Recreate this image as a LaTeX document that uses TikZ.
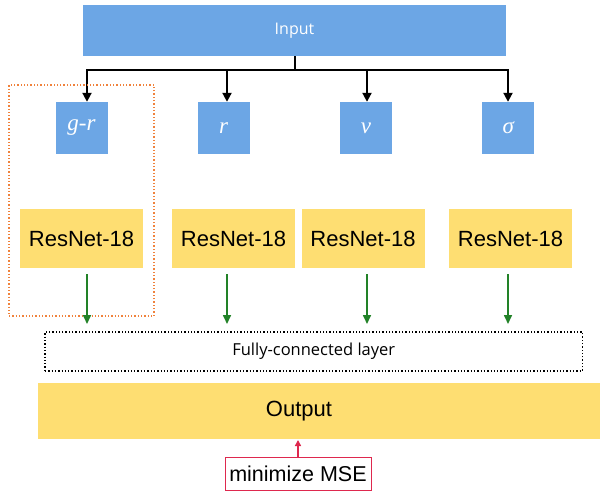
\documentclass[tikz,border=0pt]{standalone}
\usepackage{fontspec}
\setmainfont{Liberation Sans}
\newfontfamily\lightfont{Open Sans}
\newfontfamily\serifit{Liberation Serif}
\usetikzlibrary{arrows.meta}
\definecolor{bluebox}{RGB}{108,166,229}
\definecolor{yellowbox}{RGB}{254,222,114}
\definecolor{greenarrow}{RGB}{34,130,40}
\definecolor{redmse}{RGB}{222,40,78}
\definecolor{orangedot}{RGB}{240,130,60}
\tikzset{
  bluesq/.style={fill=bluebox, draw=none, minimum width=52pt, minimum height=52pt, inner sep=0pt, text=white, font=\serifit\itshape\fontsize{23}{27}\selectfont},
  resbox/.style={fill=yellowbox, draw=none, minimum width=123pt, minimum height=59pt, inner sep=0pt, font=\fontsize{22}{26}\selectfont},
  busline/.style={line width=2pt, black},
  busarrow/.style={line width=2pt, black, -{Triangle[length=9pt,width=9pt]}},
  greenarr/.style={line width=1.6pt, greenarrow, -{Triangle[length=9pt,width=8pt]}},
}
\begin{document}
\begin{tikzpicture}[x=1pt,y=-1pt]
\useasboundingbox (0,0) rectangle (600,491);
% input
\node[fill=bluebox, minimum width=423pt, minimum height=51pt, inner sep=0pt, text=white, font=\lightfont\fontsize{16}{20}\selectfont] (input) at (294.5,30.5) {Input};
% bus
\coordinate (b1) at (87,70);
\coordinate (b2) at (227,70);
\coordinate (b3) at (367,70);
\coordinate (b4) at (508,70);
\coordinate (btop) at (294.5,70);
\draw[busline] (input.south) -- (btop);
\draw[busline, line cap=rect] (b1) -- (b4);
% small boxes
\node[bluesq] (gr) at (81.5,128) {g-r};
\node[bluesq] (r) at (223.7,128) {r};
\node[bluesq] (v) at (365.9,128) {v};
\node[bluesq] (s) at (508.4,128) {σ};
\draw[busarrow] (b1) -- (b1 |- gr.north);
\draw[busarrow] (b2) -- (b2 |- r.north);
\draw[busarrow] (b3) -- (b3 |- v.north);
\draw[busarrow] (b4) -- (b4 |- s.north);
% orange group
\node[draw=orangedot, dotted, line width=1.3pt, minimum width=145pt, minimum height=231pt, inner sep=0pt] (group) at (81.5,200.5) {};
% resnets
\node[resbox] (res1) at (81.5,238.5) {ResNet-18};
\node[resbox] (res2) at (233.5,238.5) {ResNet-18};
\node[resbox] (res3) at (363,238.5) {ResNet-18};
\node[resbox] (res4) at (510.5,238.5) {ResNet-18};
% FC
\node[draw=black, dotted, line width=1.3pt, minimum width=537.5pt, minimum height=39pt, inner sep=0pt, font=\lightfont\fontsize{16.5}{19}\selectfont] (fc) at (313.75,351.5) {Fully-connected layer};
% green arrows
\coordinate (g1) at (87,274);
\coordinate (g2) at (227,274);
\coordinate (g3) at (367,274);
\coordinate (g4) at (508,274);
\coordinate (e1) at (87,324);
\coordinate (e2) at (227,324);
\coordinate (e3) at (367,324);
\coordinate (e4) at (508,324);
\draw[greenarr] (g1) -- (e1);
\draw[greenarr] (g2) -- (e2);
\draw[greenarr] (g3) -- (e3);
\draw[greenarr] (g4) -- (e4);
% output
\node[fill=yellowbox, minimum width=562pt, minimum height=56pt, inner sep=0pt] (out) at (319,411) {};
\node[font=\fontsize{22}{26}\selectfont] (outlabel) at (299,411) {Output};
% MSE
\node[draw=redmse, line width=1pt, fill=white, minimum width=146pt, minimum height=33pt, inner sep=0pt, font=\fontsize{21.5}{25}\selectfont] (mse) at (298,473.5) {minimize MSE};
\coordinate (outbot) at (298,440);
\draw[redmse, line width=1.4pt, -{Triangle[length=6pt,width=6pt]}] (mse.north) -- (outbot);
\end{tikzpicture}
\end{document}
